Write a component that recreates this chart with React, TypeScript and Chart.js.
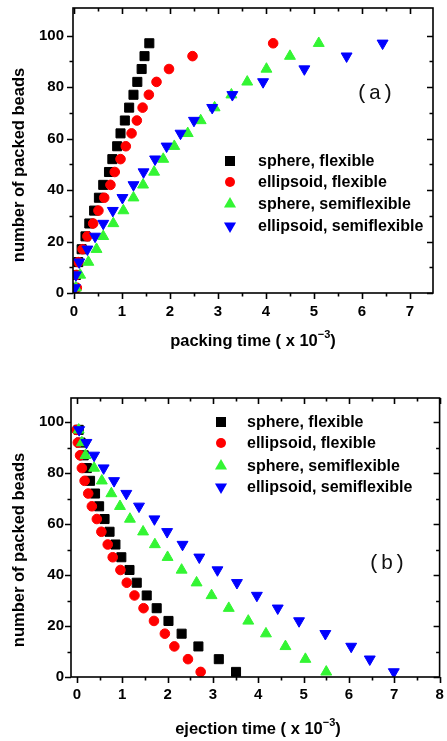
import React, { useEffect, useRef } from 'react';
import { Chart, registerables } from 'chart.js';

Chart.register(...registerables);

// ---------- data ----------
const beadCounts = [2, 7, 12, 17, 22, 27, 32, 37, 42, 47, 52, 57, 62, 67, 72, 77, 82, 87, 92, 97];
const seriesNames = ['sphere, flexible', 'ellipsoid, flexible', 'sphere, semiflexible', 'ellipsoid, semiflexible'];

// (a) packing time (x 10^-3), one value per bead count
const packSphereFlex = [0.0, 0.04, 0.09, 0.16, 0.24, 0.32, 0.42, 0.52, 0.61, 0.73, 0.8, 0.9, 0.97, 1.06, 1.15, 1.24, 1.32, 1.41, 1.47, 1.57];
const packEllipsoidFlex = [0.06, 0.05, 0.09, 0.18, 0.28, 0.4, 0.51, 0.63, 0.76, 0.85, 0.97, 1.08, 1.2, 1.31, 1.43, 1.56, 1.72, 1.98, 2.47, 4.15];
const packSphereSemi = [0.04, 0.13, 0.3, 0.47, 0.61, 0.82, 1.03, 1.24, 1.44, 1.67, 1.86, 2.09, 2.37, 2.64, 2.93, 3.28, 3.61, 4.01, 4.5, 5.1];
const packEllipsoidSemi = [0.02, 0.04, 0.11, 0.28, 0.44, 0.61, 0.81, 1.01, 1.24, 1.45, 1.69, 1.93, 2.22, 2.5, 2.88, 3.3, 3.94, 4.8, 5.68, 6.43];

// (b) ejection time (x 10^-3)
const ejectSphereFlex = [3.51, 3.13, 2.68, 2.31, 2.02, 1.76, 1.54, 1.32, 1.16, 0.98, 0.85, 0.72, 0.61, 0.49, 0.4, 0.29, 0.22, 0.15, 0.08, 0.04];
const ejectEllipsoidFlex = [2.73, 2.45, 2.15, 1.94, 1.7, 1.47, 1.27, 1.1, 0.96, 0.79, 0.68, 0.54, 0.44, 0.33, 0.25, 0.17, 0.11, 0.07, 0.02, -0.01];
const ejectSphereSemi = [5.5, 5.04, 4.6, 4.17, 3.78, 3.35, 2.97, 2.64, 2.31, 2.0, 1.72, 1.46, 1.17, 0.95, 0.76, 0.55, 0.38, 0.19, 0.11, 0.04];
const ejectEllipsoidSemi = [6.99, 6.46, 6.05, 5.48, 4.9, 4.43, 3.97, 3.53, 3.1, 2.7, 2.33, 1.99, 1.71, 1.37, 1.09, 0.82, 0.59, 0.38, 0.21, 0.05];

const packXTicks = [0, 1, 2, 3, 4, 5, 6, 7];
const packXTickLabels = ['0', '1', '2', '3', '4', '5', '6', '7'];
const packXMinor = [0.5, 1.5, 2.5, 3.5, 4.5, 5.5, 6.5];
const ejectXTicks = [0, 1, 2, 3, 4, 5, 6, 7, 8];
const ejectXTickLabels = ['0', '1', '2', '3', '4', '5', '6', '7', '8'];
const ejectXMinor = [0.5, 1.5, 2.5, 3.5, 4.5, 5.5, 6.5, 7.5];
const yTicks = [0, 20, 40, 60, 80, 100];
const yTickLabels = ['0', '20', '40', '60', '80', '100'];
const yMinor = [10, 30, 50, 70, 90];

// ---------- styles ----------
const COLORS = ['#000000', '#ff0000', '#33f533', '#0000ff'];
const SHAPES = ['rect', 'circle', 'triangle', 'triangle'];
const ROTATIONS = [0, 0, 0, 180];
const RADII = [6.4, 4.8, 6.3, 6.3];
const FONT = '"Liberation Sans", Arial, sans-serif';

type PanelCfg = {
  series: number[][];
  xMin: number; xMax: number; yMax: number;
  xTicks: number[]; xTickLabels: string[]; xMinor: number[];
  padding: { left: number; right: number; top: number; bottom: number };
  xHeight: number; yWidth: number; xPad: number; yPad: number;
  xTitle: string; xTitlePos: [number, number];
  yTitle: string; yTitlePos: [number, number];
  legendX: number; legendTextX: number; legendRows: number[];
  panelLabel: string; panelLabelPos: [number, number];
};

function drawMarker(ctx: CanvasRenderingContext2D, i: number, x: number, y: number) {
  ctx.fillStyle = COLORS[i];
  ctx.beginPath();
  if (SHAPES[i] === 'rect') {
    ctx.rect(x - 5, y - 5, 10, 10);
  } else if (SHAPES[i] === 'circle') {
    ctx.arc(x, y, 5, 0, Math.PI * 2);
  } else {
    const r = 7;
    const s = ROTATIONS[i] === 180 ? -1 : 1;
    const w = r * Math.sqrt(3) / 2;
    ctx.moveTo(x, y - s * r);
    ctx.lineTo(x + w, y + s * r / 2);
    ctx.lineTo(x - w, y + s * r / 2);
    ctx.closePath();
  }
  ctx.fill();
}

function framePlugin(cfg: PanelCfg) {
  return {
    id: 'frameAndText',
    afterDraw(chart: any) {
      const { ctx, chartArea: a, scales } = chart;
      const xs = scales.x, ys = scales.y;
      ctx.save();
      ctx.strokeStyle = '#000';
      ctx.lineWidth = 1.6;
      ctx.strokeRect(a.left, a.top, a.right - a.left, a.bottom - a.top);
      const major = 6, minor = 3.5;
      ctx.beginPath();
      const xt = (v: number, len: number) => {
        const p = Math.round(xs.getPixelForValue(v)) + 0.5;
        ctx.moveTo(p, a.bottom); ctx.lineTo(p, a.bottom + len);
        ctx.moveTo(p, a.top); ctx.lineTo(p, a.top + len);
      };
      const yt = (v: number, len: number) => {
        const p = Math.round(ys.getPixelForValue(v)) + 0.5;
        ctx.moveTo(a.left, p); ctx.lineTo(a.left - len, p);
        ctx.moveTo(a.right, p); ctx.lineTo(a.right - len, p);
      };
      cfg.xTicks.forEach((v) => xt(v, major));
      cfg.xMinor.forEach((v) => xt(v, minor));
      yTicks.forEach((v) => yt(v, major));
      yMinor.forEach((v) => yt(v, minor));
      ctx.stroke();

      // legend
      ctx.textBaseline = 'middle';
      ctx.textAlign = 'left';
      ctx.font = `bold 16px ${FONT}`;
      seriesNames.forEach((name, i) => {
        const y = cfg.legendRows[i];
        drawMarker(ctx, i, cfg.legendX, y);
        ctx.fillStyle = '#000';
        ctx.fillText(name, cfg.legendTextX, y + 1);
      });

      // panel label
      ctx.font = `21px "Liberation Mono", "DejaVu Sans Mono", monospace`;
      ctx.textAlign = 'center';
      ctx.fillStyle = '#111';
      ctx.fillText(cfg.panelLabel, cfg.panelLabelPos[0], cfg.panelLabelPos[1]);

      // x title with superscript
      ctx.fillStyle = '#000';
      const base = cfg.xTitle + ' ( x 10';
      const sup = '\u22123';
      const tail = ')';
      const big = `bold 16.5px ${FONT}`;
      const small = `bold 11px ${FONT}`;
      ctx.font = big;
      const wb = ctx.measureText(base).width;
      const wt = ctx.measureText(tail).width;
      ctx.font = small;
      const ws = ctx.measureText(sup).width;
      const x0 = cfg.xTitlePos[0] - (wb + ws + wt) / 2;
      const ty = cfg.xTitlePos[1];
      ctx.textAlign = 'left';
      ctx.font = big;
      ctx.fillText(base, x0, ty);
      ctx.font = small;
      ctx.fillText(sup, x0 + wb, ty - 6);
      ctx.font = big;
      ctx.fillText(tail, x0 + wb + ws, ty);

      // y title
      ctx.save();
      ctx.translate(cfg.yTitlePos[0], cfg.yTitlePos[1]);
      ctx.rotate(-Math.PI / 2);
      ctx.textAlign = 'center';
      ctx.font = big;
      ctx.fillText(cfg.yTitle, 0, 0);
      ctx.restore();

      ctx.restore();
    },
  };
}

function buildConfig(cfg: PanelCfg): any {
  const tickFont = { family: FONT, size: 15, weight: 'bold' as const };
  return {
    type: 'scatter',
    data: {
      datasets: cfg.series.map((xsVals, i) => ({
        label: seriesNames[i],
        data: xsVals.map((x, j) => ({ x, y: beadCounts[j] })),
        pointStyle: SHAPES[i],
        pointRotation: ROTATIONS[i],
        pointRadius: RADII[i],
        pointBackgroundColor: COLORS[i],
        pointBorderColor: COLORS[i],
        pointBorderWidth: 1,
        showLine: false,
        order: 3 - i,
      })),
    },
    options: {
      responsive: false,
      animation: false,
      events: [],
      layout: { padding: cfg.padding },
      plugins: { legend: { display: false }, tooltip: { enabled: false }, title: { display: false } },
      scales: {
        x: {
          type: 'linear',
          min: cfg.xMin,
          max: cfg.xMax,
          grid: { display: false, drawTicks: false, tickLength: 0 },
          border: { display: false },
          ticks: {
            font: tickFont, color: '#000', padding: cfg.xPad, autoSkip: false, maxRotation: 0,
            callback: (_v: any, idx: number) => cfg.xTickLabels[idx],
          },
          afterBuildTicks: (s: any) => { s.ticks = cfg.xTicks.map((v) => ({ value: v })); },
          afterFit: (s: any) => { s.height = cfg.xHeight; s.paddingLeft = 0; s.paddingRight = 0; },
        },
        y: {
          type: 'linear',
          min: 0,
          max: cfg.yMax,
          grid: { display: false, drawTicks: false, tickLength: 0 },
          border: { display: false },
          ticks: {
            font: tickFont, color: '#000', padding: cfg.yPad, autoSkip: false,
            callback: (_v: any, idx: number) => yTickLabels[idx],
          },
          afterBuildTicks: (s: any) => { s.ticks = yTicks.map((v) => ({ value: v })); },
          afterFit: (s: any) => { s.width = cfg.yWidth; s.paddingTop = 0; s.paddingBottom = 0; },
        },
      },
    },
    plugins: [framePlugin(cfg)],
  };
}

const panelA: PanelCfg = {
  series: [packSphereFlex, packEllipsoidFlex, packSphereSemi, packEllipsoidSemi],
  xMin: -0.02, xMax: 7.48, yMax: 110.7,
  xTicks: packXTicks, xTickLabels: packXTickLabels, xMinor: packXMinor,
  padding: { left: 0, right: 14, top: 8, bottom: 0 },
  xHeight: 77, yWidth: 73, xPad: 10, yPad: 9,
  xTitle: 'packing time', xTitlePos: [253, 341],
  yTitle: 'number of packed beads', yTitlePos: [19, 165],
  legendX: 230, legendTextX: 258, legendRows: [161, 182, 204, 226],
  panelLabel: '(a)', panelLabelPos: [375, 93],
};

const panelB: PanelCfg = {
  series: [ejectSphereFlex, ejectEllipsoidFlex, ejectSphereSemi, ejectEllipsoidSemi],
  xMin: -0.13, xMax: 8, yMax: 109.5,
  xTicks: ejectXTicks, xTickLabels: ejectXTickLabels, xMinor: ejectXMinor,
  padding: { left: 0, right: 4, top: 28, bottom: 0 },
  xHeight: 64, yWidth: 71, xPad: 9, yPad: 7,
  xTitle: 'ejection time', xTitlePos: [258, 359],
  yTitle: 'number of packed beads', yTitlePos: [19, 180],
  legendX: 221, legendTextX: 247, legendRows: [52, 73, 96, 117],
  panelLabel: '(b)', panelLabelPos: [387, 193],
};

function Panel({ cfg, top, height }: { cfg: PanelCfg; top: number; height: number }) {
  const ref = useRef<HTMLCanvasElement>(null);
  useEffect(() => {
    const chart = new Chart(ref.current as HTMLCanvasElement, buildConfig(cfg));
    return () => chart.destroy();
  }, [cfg]);
  return (
    <canvas
      ref={ref}
      width={447}
      height={height}
      style={{ position: 'absolute', left: 0, top, width: 447, height }}
    />
  );
}

export default function App() {
  return (
    <div style={{ position: 'absolute', left: 0, top: 0, width: 447, height: 741, background: '#fff', overflow: 'hidden' }}>
      <Panel cfg={panelA} top={0} height={370} />
      <Panel cfg={panelB} top={370} height={371} />
    </div>
  );
}
